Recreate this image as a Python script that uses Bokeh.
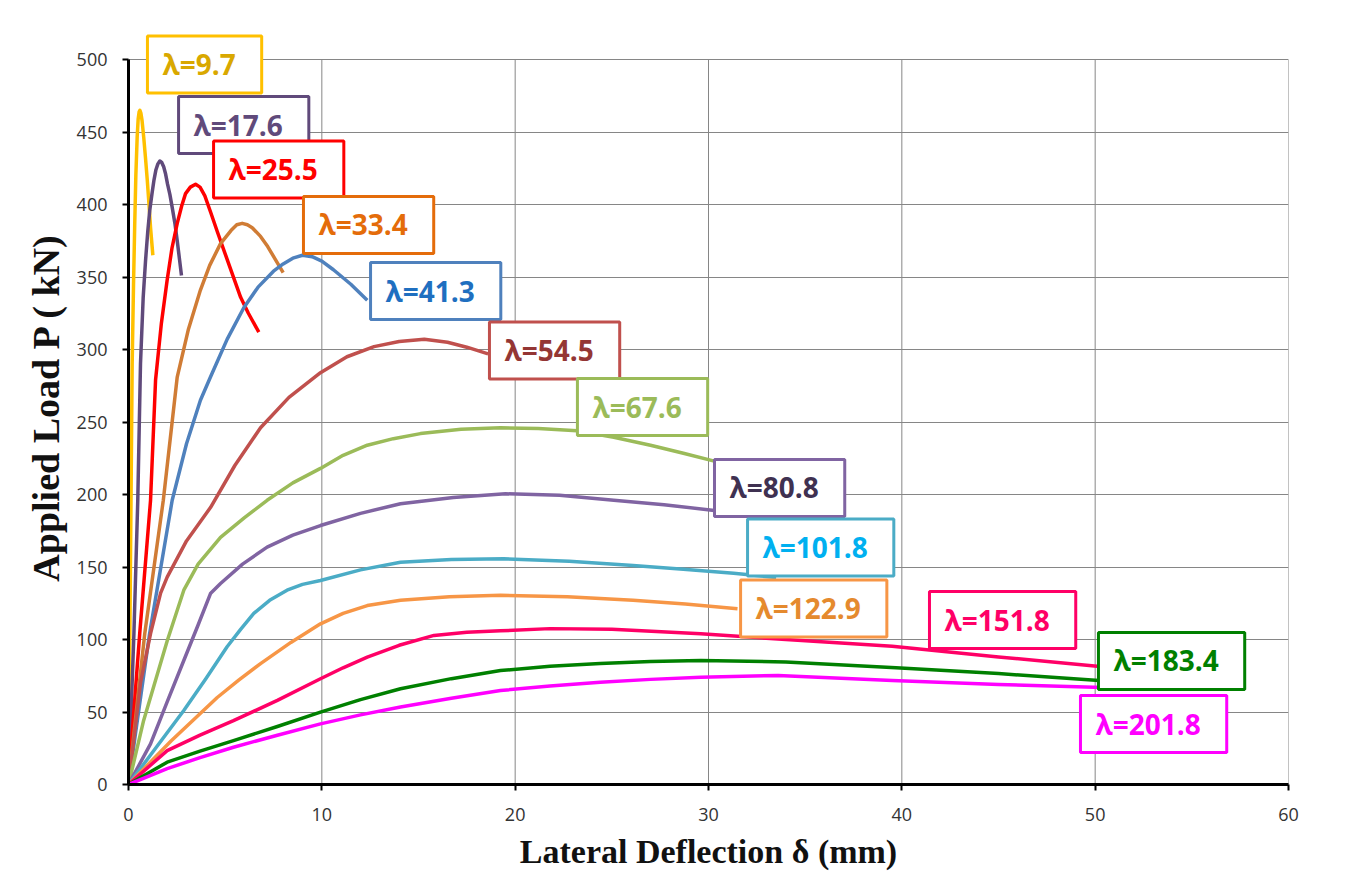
from bokeh.plotting import figure
from bokeh.models import Range1d, FixedTicker, Label
from bokeh.embed import file_html
from bokeh.resources import INLINE

# ---- data (lateral deflection mm, applied load kN) ----
lam_names = ["λ=9.7", "λ=17.6", "λ=25.5", "λ=33.4", "λ=41.3", "λ=54.5", "λ=67.6",
             "λ=80.8", "λ=101.8", "λ=122.9", "λ=151.8", "λ=183.4", "λ=201.8"]

x_97 = [0, 0.1, 0.19, 0.26, 0.32, 0.38, 0.45, 0.5, 0.55, 0.59, 0.64, 0.7, 0.79, 0.88, 0.97, 1.06, 1.14, 1.26]
y_97 = [0, 150, 290, 345, 385, 420, 447, 459, 464, 465, 463, 458, 446, 432, 417, 400, 384, 365]

x_176 = [0, 0.28, 0.48, 0.62, 0.76, 0.88, 1.0, 1.1, 1.22, 1.32, 1.42, 1.52, 1.62, 1.72, 1.82, 1.92,
         2.02, 2.14, 2.26, 2.4, 2.52, 2.64, 2.74]
y_176 = [0, 104, 196, 290, 336, 361, 382, 396, 408, 417, 424, 428, 430, 429, 426, 421,
         414, 407, 398, 387, 375, 362, 351]

x_255 = [0, 0.19, 0.58, 1.14, 1.4, 1.7, 2.0, 2.25, 2.52, 2.75, 2.95, 3.2, 3.47, 3.7, 3.95, 4.24,
         4.6, 5.0, 5.4, 5.8, 6.2, 6.74]
y_255 = [0, 35, 104, 196, 279, 318, 348, 370, 387, 399, 407.5, 412, 414, 412, 406, 395,
         381, 366, 351, 336, 325, 312]

x_334 = [0, 0.28, 0.84, 1.8, 2.52, 3.1, 3.72, 4.2, 4.76, 5.3, 5.6, 5.88, 6.15, 6.4, 6.83, 7.2, 7.6, 8.0]
y_334 = [0, 35, 104, 196, 281, 314, 341, 358, 373, 382, 386, 387, 386, 384, 378, 371, 362, 353]

x_413 = [0, 0.36, 1.09, 2.26, 3.0, 3.72, 4.24, 5.1, 5.97, 6.7, 7.5, 8.0, 8.5, 9.0, 9.5, 10.0,
         10.6, 11.5, 12.35]
y_413 = [0, 35, 104, 196, 235, 265, 281, 307, 329, 343, 354, 359, 363, 365, 364, 361,
         355, 345, 334]

x_545 = [0, 0.62, 1.14, 1.66, 2.0, 3.0, 4.24, 5.5, 6.83, 8.3, 9.93, 11.3, 12.7, 14.0, 15.3,
         16.5, 17.5, 18.6]
y_545 = [0, 70, 104, 132, 143, 168, 191, 220, 246, 267, 284, 295, 302, 305.5, 307,
         305, 301.6, 297]

x_676 = [0, 0.78, 2.0, 2.86, 3.6, 4.76, 6.0, 7.17, 8.5, 9.93, 11.1, 12.35, 13.7, 15.1, 17.2,
         19.24, 21.2, 23.2, 25.1, 27.0, 28.7, 30.3]
y_676 = [0, 44, 99, 134, 152, 170.5, 184, 196, 208, 218, 227, 234, 238.5, 242, 245,
         246, 245.5, 244, 239.5, 234, 228.5, 223]

x_808 = [0, 1.14, 2.0, 2.86, 3.6, 4.24, 4.76, 5.9, 7.17, 8.5, 9.93, 12.0, 14.07, 16.8, 19.5,
         22.3, 25.1, 27.7, 30.3]
y_808 = [0, 28, 57, 85.5, 110, 131.7, 138.6, 152, 163.7, 172, 178.6, 187, 193.6, 198, 200.5,
         199.5, 196, 193, 189]

x_1018 = [0, 1.4, 2.86, 4.0, 5.1, 5.8, 6.48, 7.3, 8.2, 9.0, 9.93, 12.0, 14.07, 16.7, 19.4,
          22.8, 26.1, 28.7, 31.3, 33.5]
y_1018 = [0, 25, 51, 73, 95, 107, 118, 127, 134, 138, 140.7, 148, 153.3, 155.2, 155.7,
          154, 151, 148.5, 145.7, 142.7]

x_1229 = [0, 2.2, 4.59, 5.7, 6.83, 8.4, 9.93, 11.1, 12.35, 14.07, 16.6, 19.24, 22.7, 26.1, 28.8, 31.5]
y_1229 = [0, 30, 60, 72, 83.4, 98, 110.8, 118, 123.4, 127, 129.5, 130.5, 129.5, 127, 124.5, 121.2]

x_1518 = [0, 2.0, 3.7, 5.43, 7.7, 9.93, 11.1, 12.35, 14.0, 15.8, 17.5, 19.24, 21.8, 25.0,
          29.6, 34.0, 39.5, 45.0, 50.1]
y_1518 = [0, 23.4, 34, 44, 58, 72.9, 80.5, 87.8, 96, 102.8, 105, 106, 107.5, 107,
          104, 100, 95.4, 88, 81.5]

x_1834 = [0, 2.0, 3.7, 5.43, 7.7, 9.93, 12.0, 14.07, 16.7, 19.24, 21.8, 24.4, 27.0, 29.6,
          34.0, 39.7, 45.0, 50.2]
y_1834 = [0, 15.4, 23, 30.3, 40, 49.9, 58.5, 66, 73, 78.6, 81.5, 83.4, 84.8, 85.5,
          84.5, 80.5, 76.5, 71.8]

x_2018 = [0, 2.0, 3.7, 5.43, 7.7, 9.93, 12.0, 14.07, 16.7, 19.24, 21.8, 24.4, 27.0, 29.6,
          33.6, 39.5, 45.0, 51.3]
y_2018 = [0, 11, 18.5, 25.7, 34, 41.8, 48, 53.5, 59.5, 64.8, 68, 70.6, 72.5, 74,
          75.2, 71.8, 69, 66.5]

x_ticks = [0, 10, 20, 30, 40, 50, 60]
y_ticks = [0, 50, 100, 150, 200, 250, 300, 350, 400, 450, 500]

series_x = [x_97, x_176, x_255, x_334, x_413, x_545, x_676, x_808, x_1018, x_1229, x_1518, x_1834, x_2018]
series_y = [y_97, y_176, y_255, y_334, y_413, y_545, y_676, y_808, y_1018, y_1229, y_1518, y_1834, y_2018]

# ---- styles ----
line_colors = ["#FFC000", "#604A7B", "#FF0000", "#D07C35", "#4F81BD", "#C0504D", "#9BBB59",
               "#8064A2", "#4BACC6", "#F79646", "#FF0066", "#008000", "#FF00FF"]
box_colors = ["#FFC000", "#604A7B", "#FF0000", "#E46C0A", "#4F81BD", "#C0504D", "#9BBB59",
              "#8064A2", "#4BACC6", "#F79646", "#FF0066", "#008000", "#FF00FF"]
text_colors = ["#D9A800", "#604A7B", "#FF0000", "#E46C0A", "#1F6FC0", "#943634", "#9BBB59",
               "#3F3151", "#00B0F0", "#E58A2E", "#FF0066", "#008000", "#FF00FF"]
# label box anchor (left edge, vertical centre) in data units
lab_x = [0.98, 2.59, 4.40, 9.05, 12.52, 18.67, 23.22, 30.31, 32.02, 31.66, 41.43, 50.17, 49.24]
lab_y = [496.6, 454.8, 424.1, 385.9, 340.3, 299.3, 260.3, 204.5, 163.4, 121.4, 113.4, 85.2, 41.7]

Y_TOP = 520  # a little head-room above 500 so the top label box is not clipped

p = figure(frame_width=1160, frame_height=754,
           min_border_left=128, min_border_right=73, min_border_top=30, min_border_bottom=83,
           x_range=Range1d(0, 60), y_range=Range1d(0, Y_TOP),
           output_backend="svg", toolbar_location=None,
           background_fill_color="white", border_fill_color="white")
p.styles = {"outline": "2px solid #8c8c8c", "outline-offset": "-3px"}

p.outline_line_color = None
p.xgrid.grid_line_color = None
p.ygrid.grid_line_color = "#868686"
p.ygrid.grid_line_width = 1
# vertical grid lines only up to 500
p.segment(x0=x_ticks, y0=[0] * len(x_ticks), x1=x_ticks, y1=[500] * len(x_ticks),
          line_color="#868686", line_width=1, level="underlay")

p.xaxis.ticker = FixedTicker(ticks=x_ticks)
p.yaxis.ticker = FixedTicker(ticks=y_ticks)
p.yaxis.bounds = (0, 500)
for ax in (p.xaxis, p.yaxis):
    ax.axis_line_color = "black"
    ax.axis_line_width = 3
    ax.major_tick_line_color = "black"
    ax.major_tick_line_width = 2
    ax.major_tick_out = 6
    ax.major_tick_in = 0
    ax.minor_tick_line_color = None
    ax.major_label_text_font = "Open Sans"
    ax.major_label_text_font_size = "18px"
    ax.major_label_text_color = "#333333"
    ax.axis_label_text_font = "Liberation Serif"
    ax.axis_label_text_font_style = "bold"
    ax.axis_label_text_color = "#111111"

p.xaxis.major_label_standoff = 17
p.yaxis.major_label_standoff = 15
p.xaxis.axis_label = "Lateral Deflection δ (mm)"
p.xaxis.axis_label_text_font_size = "34px"
p.xaxis.axis_label_standoff = 9
p.yaxis.axis_label = "Applied Load P ( kN)"
p.yaxis.axis_label_text_font_size = "38px"
p.yaxis.axis_label_standoff = 7

for xs, ys, c in zip(series_x, series_y, line_colors):
    p.line(xs, ys, line_color=c, line_width=3.5, line_join="round")

for name, lx, ly, bc, tc in zip(lam_names, lab_x, lab_y, box_colors, text_colors):
    p.add_layout(Label(x=lx, y=ly, text=name,
                       text_font="Open Sans", text_font_size="28px", text_font_style="bold",
                       text_color=tc, text_align="left", text_baseline="middle",
                       background_fill_color="white", background_fill_alpha=1.0,
                       border_line_color=bc, border_line_width=3,
                       padding=(15, 26, 9, 10)))

open("out.html", "w").write(file_html(p, INLINE))
